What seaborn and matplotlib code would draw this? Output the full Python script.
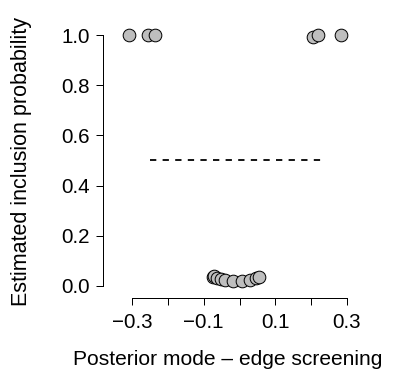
import matplotlib
matplotlib.use("Agg")
import matplotlib.pyplot as plt
import seaborn as sns
import pandas as pd

# Data
post_mode = [-0.3075, -0.2545, -0.236, 0.206, 0.220, 0.2825,
             -0.074, -0.070, -0.063, -0.052, -0.0405, -0.018, 0.007, 0.029, 0.045, 0.0545]
incl_prob = [1.0, 1.0, 1.0, 0.992, 1.0, 1.0,
             0.036, 0.038, 0.032, 0.028, 0.024, 0.020, 0.020, 0.024, 0.030, 0.036]
ref_x = [-0.25, 0.24]
ref_y = [0.5, 0.5]
xticks = [-0.3, -0.2, -0.1, 0.0, 0.1, 0.2, 0.3]
xtick_labels = ["\u22120.3", "", "\u22120.1", "", "0.1", "", "0.3"]
yticks = [0.0, 0.2, 0.4, 0.6, 0.8, 1.0]
ytick_labels = ["0.0", "0.2", "0.4", "0.6", "0.8", "1.0"]

df = pd.DataFrame({"x": post_mode, "y": incl_prob})

sns.set_style("white")
plt.rcParams["font.family"] = ["Liberation Sans", "DejaVu Sans"]
plt.rcParams["text.color"] = "black"
plt.rcParams["axes.labelcolor"] = "black"

dpi = 72
fig = plt.figure(figsize=(407 / dpi, 376 / dpi), dpi=dpi)
left_px, right_px, top_px, bottom_px = 103, 352, 25, 298
ax = fig.add_axes([left_px / 407, 1 - bottom_px / 376,
                   (right_px - left_px) / 407, (bottom_px - top_px) / 376])

sns.scatterplot(data=df, x="x", y="y", ax=ax, s=160, color="#BEBEBE",
                edgecolor="black", linewidth=1.0, zorder=3, legend=False)
ax.plot(ref_x, ref_y, color="black", linestyle=(0, (3.5, 3.5)), linewidth=1.8)

ax.set_xlim(-0.381, 0.314)
ax.set_ylim(-0.048, 1.04)
ax.set_xticks(xticks)
ax.set_xticklabels(xtick_labels)
ax.set_yticks(yticks)
ax.set_yticklabels(ytick_labels)

for s in ["top", "right"]:
    ax.spines[s].set_visible(False)
for s in ["left", "bottom"]:
    ax.spines[s].set_color("black")
    ax.spines[s].set_linewidth(1.0)
ax.spines["left"].set_bounds(0, 1)
ax.spines["bottom"].set_bounds(-0.3, 0.3)
ax.tick_params(axis="x", direction="out", length=7, width=1.0, color="black",
               labelsize=20.5, labelcolor="black", pad=8, bottom=True)
ax.tick_params(axis="y", direction="out", length=7, width=1.0, color="black",
               labelsize=20.5, labelcolor="black", pad=6, left=True)

ax.set_xlabel("Posterior mode \u2013 edge screening", fontsize=21, labelpad=18, color="black")
ax.set_ylabel("Estimated inclusion probability", fontsize=21.5, labelpad=29, color="black")

fig.savefig("out.png", dpi=dpi, facecolor="white")
